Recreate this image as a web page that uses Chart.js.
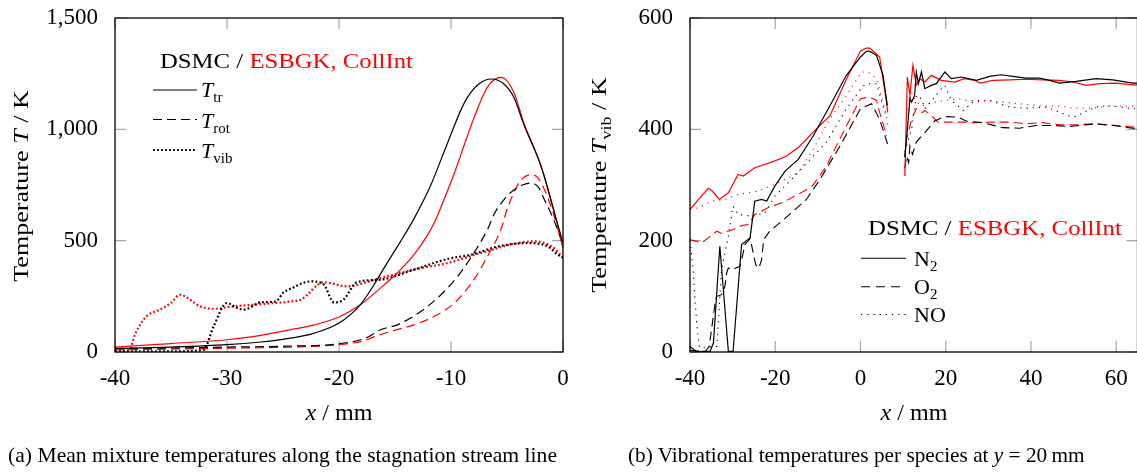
<!DOCTYPE html>
<html><head><meta charset="utf-8">
<script src="https://cdn.jsdelivr.net/npm/chart.js@4.4.1/dist/chart.umd.min.js"></script>
<style>
body{margin:0;background:#fff;width:1137px;height:474px;overflow:hidden;position:relative;font-family:'Liberation Serif','Times New Roman',serif;color:#000;}
.abs{position:absolute;white-space:nowrap;line-height:1;}
.t22{font-size:22px;}
.sub{font-size:15px;position:relative;top:5px;}
.cap{font-size:21px;}
canvas{position:absolute;top:0;}
</style></head><body>
<canvas id="c1" width="600" height="400" style="left:0"></canvas>
<canvas id="c2" width="560" height="400" style="left:580px"></canvas>

<svg class="abs" style="left:0;top:0" width="1137" height="474">
  <line x1="153" y1="90" x2="197" y2="90" stroke="#000" stroke-width="1.2"/>
  <line x1="153" y1="119.5" x2="197" y2="119.5" stroke="#000" stroke-width="1.2" stroke-dasharray="9 5"/>
  <line x1="153" y1="150" x2="197" y2="150" stroke="#000" stroke-width="2.2" stroke-dasharray="1.8 2.2"/>
  <line x1="861" y1="258.3" x2="906" y2="258.3" stroke="#000" stroke-width="1.1"/>
  <line x1="861" y1="286.7" x2="906" y2="286.7" stroke="#000" stroke-width="1.1" stroke-dasharray="9 6"/>
  <line x1="861" y1="314.5" x2="906" y2="314.5" stroke="#000" stroke-width="1.1" stroke-dasharray="1.2 5"/>
</svg>

<div class="abs t22 fit" data-w="253" style="left:160px;top:50px">DSMC / <span style="color:#ff0000">ESBGK, CollInt</span></div>
<div class="abs t22" style="left:201px;top:79px"><i>T</i><span class="sub">tr</span></div>
<div class="abs t22" style="left:201px;top:109.5px"><i>T</i><span class="sub">rot</span></div>
<div class="abs t22" style="left:201px;top:140px"><i>T</i><span class="sub">vib</span></div>

<div class="abs t22 fit" data-w="254" style="left:868px;top:217px">DSMC / <span style="color:#ff0000">ESBGK, CollInt</span></div>
<div class="abs t22" style="left:914px;top:247.5px">N<span class="sub">2</span></div>
<div class="abs t22" style="left:914px;top:276px">O<span class="sub">2</span></div>
<div class="abs t22" style="left:914px;top:303.5px">NO</div>

<div class="abs t22 fitr" data-w="192" data-cx="20.5" data-cy="186">Temperature <i>T</i> / K</div>
<div class="abs t22 fitr" data-w="216" data-cx="599" data-cy="185">Temperature <i>T</i><span class="sub">vib</span> / K</div>
<div class="abs fitc" data-w="67" data-cx="339" style="top:400.5px;font-size:23px"><i>x</i> / mm</div>
<div class="abs fitc" data-w="67" data-cx="913.5" style="top:400.5px;font-size:23px"><i>x</i> / mm</div>

<div class="abs cap fitc" data-w="549" data-cx="282.5" style="top:445px">(a) Mean mixture temperatures along the stagnation stream line</div>
<div class="abs cap fitc" data-w="457" data-cx="856.5" style="top:445px">(b) Vibrational temperatures per species at <i>y</i> = 20&#8201;mm</div>

<script>
// ---------- data (a) ----------
const xTicksA = [-40, -30, -20, -10, 0];
const yTicksA = [0, 500, 1000, 1500];
const ttrDSMC = [[-40,15],[-35,22],[-30,33],[-27,45],[-25,57],[-22.2,85],[-20,130],[-18.1,212],[-16.9,300],[-15.7,400],[-14.5,497],[-13.4,590],[-11.8,750],[-10.3,940],[-8.8,1120],[-7.6,1200],[-6.4,1226],[-5.3,1205],[-4.4,1145],[-3.5,1022],[-1.95,833],[-0.76,624],[0,490]];
const ttrES   = [[-40,22],[-35,38],[-30,55],[-27,75],[-24.3,100],[-22.2,122],[-20,157],[-18.1,212],[-16.3,287],[-14.8,355],[-13.3,437],[-12.1,525],[-11.5,580],[-9.7,804],[-7.9,1058],[-6.7,1193],[-5.5,1233],[-4.4,1168],[-3.5,1030],[-1.95,833],[-0.76,624],[0,468]];
const trotDSMC = [[-40,16],[-35,18],[-30,22],[-25,26],[-20,37],[-17.5,65],[-16.3,100],[-14.8,122],[-12.7,182],[-10.9,257],[-9.4,340],[-7.95,445],[-6.75,549],[-6.1,624],[-5,700],[-4.35,729],[-3.5,752],[-2.85,759],[-2.2,740],[-1.66,684],[-0.8,590],[0,480]];
const trotES   = [[-40,10],[-35,13],[-30,17],[-25,21],[-20,33],[-18,48],[-16.3,78],[-14.5,105],[-13.3,122],[-11.5,160],[-9.7,220],[-7.95,325],[-6.75,429],[-5.55,549],[-5,639],[-3.85,766],[-2.85,796],[-2.2,780],[-1.4,699],[-0.6,580],[0,470]];
const tvibDSMC = [[-40,3],[-35,3],[-32.1,10],[-31.2,115],[-30,220],[-29.2,200],[-28.5,190],[-27,223],[-26,225],[-25.5,232],[-25,265],[-24.3,285],[-22.5,317],[-21.4,305],[-20.45,223],[-19.6,235],[-18.4,313],[-16.3,325],[-13.3,370],[-10.3,418],[-8.2,437],[-5.8,474],[-3.1,489],[-1.4,475],[-0.25,430],[0,425]];
const tvibES   = [[-40,8],[-38.7,12],[-38.2,80],[-37.2,160],[-36,190],[-35,220],[-34.2,257],[-32.4,205],[-31.2,194],[-29.4,205],[-26.4,217],[-24.3,227],[-23.4,235],[-21.35,313],[-19.3,295],[-16.3,332],[-13.3,370],[-10.3,400],[-7.3,445],[-4.35,486],[-2.6,497],[-0.8,467],[0,422]];

// ---------- data (b) ----------
const xTicksB = [-40, -20, 0, 20, 40, 60];
const yTicksB = [0, 200, 400, 600];
const n2DSMC = [[-40,10],[-38.5,1],[-35.3,1],[-34.5,16],[-33,190],[-31,1],[-29.9,1],[-27.9,193],[-25.9,205],[-24.8,271],[-23.2,274],[-22,271],[-20.1,298],[-17.7,325],[-14.6,346],[-11.1,388],[-7.2,442],[-3.3,497],[0,530],[1.4,540],[2.2,540],[3.75,533],[5.3,497],[6.3,443],[8,null],[10.4,350],[10.8,382],[11.6,455],[12,449],[12.7,461],[13.1,503],[13.6,482],[14.3,503],[15.1,473],[16.6,479],[17.8,482],[19.8,503],[21.3,491],[23.7,494],[27.2,488],[30.3,495],[33,498],[35.8,495],[38.8,492],[42,492],[44.4,488],[46.7,483],[50.6,486],[55.3,491],[59.2,489],[63.9,483],[65,483]];
const n2ES   = [[-40,256],[-38,274],[-35.7,294],[-34.9,290],[-33.1,274],[-31,286],[-28.7,319],[-27.5,316],[-24.8,331],[-20.5,342],[-17.3,352],[-14.2,370],[-11.1,395],[-7.2,424],[-3.3,490],[0,541],[1.4,546],[2.2,546],[4.5,530],[6.1,449],[6.4,430],[8,null],[10.4,316],[11,494],[11.6,461],[12.3,515],[13.1,479],[13.9,491],[15.1,485],[16.6,497],[19,488],[22.1,485],[24.4,491],[26.8,488],[28,483],[31.1,488],[35,489],[38.8,490],[42.8,489],[46.7,488],[49.8,485],[53,479],[56.1,482],[60,483],[63.9,480],[65,480]];
const o2DSMC = [[-40,3],[-36.5,0],[-35.5,10],[-34.6,60],[-34,95],[-33.7,100],[-32.6,103],[-31.8,118],[-31.4,142],[-31,151],[-30.4,148],[-29.5,150],[-28.3,154],[-27.7,172],[-27.1,193],[-25.9,204],[-25.5,190],[-25,172],[-24.6,157],[-23.8,151],[-23.2,166],[-22.7,202],[-21.3,217],[-17.7,240],[-12.7,274],[-9.5,310],[-4.8,370],[0,437],[2.6,446],[4.5,418],[6.5,370],[8,null],[10.4,330],[10.8,352],[11.3,340],[11.6,370],[12.2,355],[13.1,377],[15.1,394],[17.4,415],[19.8,423],[22.9,422],[24.8,415],[28.7,412],[33.4,403],[37.3,402],[41.2,407],[45.1,407],[49,405],[55.3,410],[59.2,407],[63.9,402],[65,401]];
const o2ES   = [[-40,202],[-37.3,196],[-35.7,205],[-33.7,217],[-32.6,213],[-29.9,220],[-27.9,227],[-26.3,229],[-24.8,247],[-21.7,259],[-18.5,268],[-15.4,280],[-13,290],[-11.1,300],[-8,334],[-3.3,406],[0,455],[2.2,458],[3.75,452],[4.5,430],[5.7,400],[6.1,388],[8,null],[10.4,350],[10.8,382],[11.6,406],[12.3,424],[13.1,437],[14.5,430],[15.1,434],[17,422],[18.2,413],[22,413],[24.1,413],[26.4,412],[31.1,413],[35,413],[38.8,410],[42.8,412],[46.7,408],[50.6,408],[54.5,410],[58.4,408],[63.9,404],[65,404]];
const noDSMC = [[-40,200],[-39.3,150],[-38.8,90],[-38.3,40],[-37.8,8],[-33.7,10],[-32.6,148],[-31,208],[-29.9,262],[-28.7,247],[-25.5,244],[-22.4,250],[-20.1,280],[-16.2,310],[-8,377],[-3.3,437],[0.6,478],[1.8,482],[3.75,482],[5.3,442],[6.1,420],[8,null],[10.4,360],[12,400],[12.7,437],[13.1,461],[14.3,455],[15.1,437],[17.4,458],[19,473],[19.8,479],[21.3,452],[23.7,437],[24.1,434],[26.4,449],[30.3,452],[35,440],[38.8,438],[43.5,440],[46.7,431],[49,424],[50.6,423],[53,433],[56.1,442],[59.2,442],[63.9,437],[65,437]];
const noES   = [[-40,256],[-38,259],[-34.9,271],[-31.8,274],[-28.7,283],[-24,289],[-19.3,304],[-14.6,322],[-11.1,364],[-7.2,419],[-3.3,460],[0.25,503],[1.8,503],[3.75,491],[4.9,460],[6.1,424],[6.5,400],[8,null],[10.8,424],[12,467],[13,450],[14.3,442],[17.4,449],[19.8,452],[22.9,455],[24.8,452],[28.7,452],[32.7,449],[37.3,446],[42,442],[46.7,442],[49.8,438],[54.5,438],[58.4,442],[63.9,442],[65,442]];

const BLACK = '#000000', RED = '#ff0000';
const FONT = "'Liberation Serif','Times New Roman',serif";
const pts = a => a.map(p => ({x: p[0], y: p[1]}));

const framePlugin = {
  id: 'frame',
  beforeDatasetsDraw(chart) {
    const {ctx, chartArea: {left, right, top, bottom}, scales: {x, y}} = chart;
    const L = 11;
    ctx.save();
    ctx.strokeStyle = '#a6a6a6';
    ctx.lineWidth = 1.2;
    ctx.beginPath();
    x.ticks.forEach(t => {
      const px = x.getPixelForValue(t.value);
      ctx.moveTo(px, bottom); ctx.lineTo(px, bottom - L);
      ctx.moveTo(px, top); ctx.lineTo(px, top + L);
    });
    y.ticks.forEach(t => {
      const py = y.getPixelForValue(t.value);
      ctx.moveTo(left, py); ctx.lineTo(left + L, py);
      ctx.moveTo(right, py); ctx.lineTo(right - L, py);
    });
    ctx.stroke();
    ctx.restore();
  },
  afterDraw(chart) {
    const {ctx, chartArea: {left, right, top, bottom}} = chart;
    ctx.save();
    ctx.strokeStyle = '#000';
    ctx.lineWidth = 1.3;
    ctx.strokeRect(left, top, right - left, bottom - top);
    ctx.restore();
  }
};

function ds(arr, color, style, panel) {
  const o = {data: pts(arr), borderColor: color, backgroundColor: color, pointRadius: 0, fill: false, spanGaps: false};
  if (panel === 'a') { o.cubicInterpolationMode = 'monotone'; } else { o.tension = 0; }
  if (style === 'solid') { o.borderWidth = 1.2; }
  if (style === 'dashed') { o.borderWidth = panel === 'a' ? 1.2 : 1.1; o.borderDash = [9, 5]; }
  if (style === 'dotted') {
    if (panel === 'a') { o.borderWidth = 2.2; o.borderDash = [1.8, 2.2]; }
    else { o.borderWidth = 1.1; o.borderDash = [1.2, 5]; }
  }
  return o;
}

function makeChart(id, datasets, xmin, xmax, ymin, ymax, xt, yt, yAxisW, padRight) {
  return new Chart(document.getElementById(id), {
    type: 'line',
    data: {datasets},
    plugins: [framePlugin],
    options: {
      responsive: false, animation: false, devicePixelRatio: 1,
      layout: {padding: {left: 0, right: padRight, top: 18, bottom: 0}},
      plugins: {legend: {display: false}, tooltip: {enabled: false}},
      scales: {
        x: {
          type: 'linear', min: xmin, max: xmax,
          grid: {display: false}, border: {display: false},
          afterBuildTicks: s => { s.ticks = xt.map(v => ({value: v})); },
          afterFit: s => { s.height = 48; s.paddingLeft = 0; s.paddingRight = 0; },
          ticks: {autoSkip: false, maxRotation: 0, padding: 5, color: '#000', font: {family: FONT, size: 23}, callback: v => String(v)}
        },
        y: {
          type: 'linear', min: ymin, max: ymax,
          grid: {display: false}, border: {display: false},
          afterBuildTicks: s => { s.ticks = yt.map(v => ({value: v})); },
          afterFit: s => { s.width = yAxisW; s.paddingTop = 0; s.paddingBottom = 0; },
          ticks: {padding: 9, color: '#000', font: {family: FONT, size: 23}, callback: v => Number(v).toLocaleString('en-US')}
        }
      }
    }
  });
}

makeChart('c1', [
  ds(ttrDSMC, BLACK, 'solid', 'a'), ds(ttrES, RED, 'solid', 'a'),
  ds(trotDSMC, BLACK, 'dashed', 'a'), ds(trotES, RED, 'dashed', 'a'),
  ds(tvibDSMC, BLACK, 'dotted', 'a'), ds(tvibES, RED, 'dotted', 'a')
], -40, 0, 0, 1500, xTicksA, yTicksA, 115, 37);

makeChart('c2', [
  ds(n2DSMC, BLACK, 'solid', 'b'), ds(n2ES, RED, 'solid', 'b'),
  ds(o2DSMC, BLACK, 'dashed', 'b'), ds(o2ES, RED, 'dashed', 'b'),
  ds(noDSMC, BLACK, 'dotted', 'b'), ds(noES, RED, 'dotted', 'b')
], -40, 65, 0, 600, xTicksB, yTicksB, 110, 2.5);

// fit text widths to the reference layout
document.querySelectorAll('.fit').forEach(el => {
  const k = (+el.dataset.w) / el.offsetWidth;
  el.style.transformOrigin = 'left center';
  el.style.transform = `scaleX(${k})`;
});
document.querySelectorAll('.fitc').forEach(el => {
  const w = el.offsetWidth, k = (+el.dataset.w) / w;
  el.style.left = (+el.dataset.cx - w / 2) + 'px';
  el.style.transformOrigin = 'center center';
  el.style.transform = `scaleX(${k})`;
});
document.querySelectorAll('.fitr').forEach(el => {
  const w = el.offsetWidth, h = el.offsetHeight, k = (+el.dataset.w) / w;
  el.style.left = (+el.dataset.cx - w / 2) + 'px';
  el.style.top = (+el.dataset.cy - h / 2) + 'px';
  el.style.transformOrigin = 'center center';
  el.style.transform = `rotate(-90deg) scaleX(${k})`;
});
</script>
</body></html>
